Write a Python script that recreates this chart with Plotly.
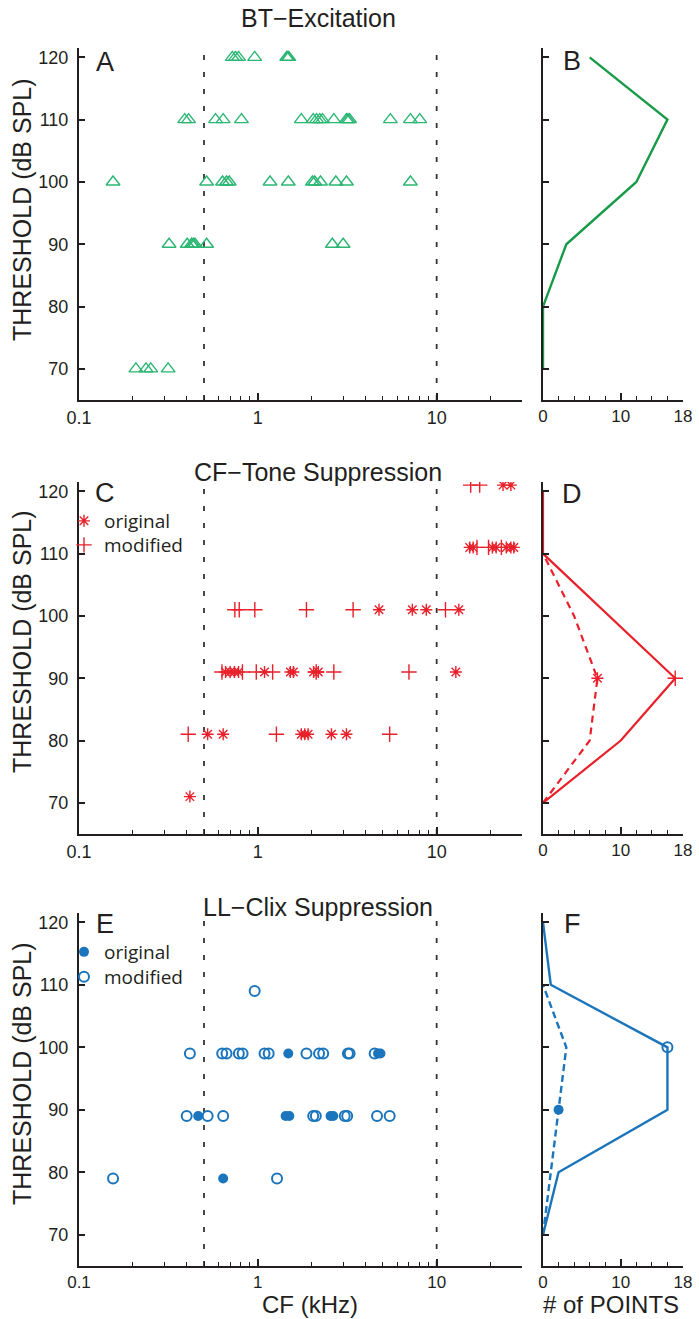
import math
import plotly.graph_objects as go

FONT = "Arial, Liberation Sans, sans-serif"
INK = "#231f20"
GREEN_PT = "#2bb673"
GREEN_LN = "#179b48"
RED = "#e8202a"
BLUE = "#1b75bc"

W, H = 699, 1319

# ---------------- data ----------------
# shared y levels for the distribution panels
levels = [70, 80, 90, 100, 110, 120]
cf_bounds = [0.5, 10]

# BT-Excitation: CF (kHz) and threshold (dB SPL)
bt_cf = [0.72, 0.75, 0.78, 0.96, 1.45, 1.47, 1.49,
         0.39, 0.41, 0.58, 0.64, 0.81, 1.75, 2.04, 2.13, 2.22, 2.30, 2.66, 3.13, 3.19, 3.26, 5.51, 7.13, 8.04,
         0.155, 0.517, 0.635, 0.668, 0.692, 1.17, 1.48, 2.02, 2.08, 2.24, 2.73, 3.13, 7.13,
         0.319, 0.403, 0.426, 0.435, 0.445, 0.517, 2.61, 3.0,
         0.208, 0.237, 0.252, 0.315]
bt_thr = [120] * 7 + [110] * 17 + [100] * 13 + [90] * 8 + [70] * 4
bt_counts = [0, 0, 3, 12, 16, 6]

# CF-Tone Suppression
cft_orig_cf = [23.5, 26.0,
               15.3, 16.0, 20.5, 21.5, 24.5, 26.0, 27.0,
               4.76, 7.31, 8.75, 13.3,
               0.66, 0.70, 0.74, 0.78, 1.09, 1.52, 1.58, 2.05, 2.18, 12.8,
               0.524, 0.640, 1.75, 1.83, 1.91, 2.58, 3.13,
               0.417]
cft_orig_thr = [121] * 2 + [111] * 7 + [101] * 4 + [91] * 10 + [81] * 7 + [71]
cft_mod_cf = [15.5, 17.4,
              16.8, 19.5, 23.0,
              0.744, 0.787, 0.962, 1.87, 3.41, 11.2,
              0.63, 0.82, 0.98, 1.21, 2.12, 2.66, 7.0,
              0.408, 1.27, 5.46]
cft_mod_thr = [121] * 2 + [111] * 3 + [101] * 6 + [91] * 7 + [81] * 3
cft_mod_counts = [0, 10, 17, 8.5, 0, 0]
cft_orig_levels = [70, 80, 90, 100, 110]
cft_orig_counts = [0, 6, 7, 4, 0]

# LL-Clix Suppression
llc_orig_cf = [1.48, 4.70, 4.85,
               0.464, 1.43, 1.50, 2.55, 2.64,
               0.640]
llc_orig_thr = [99] * 3 + [89] * 5 + [79]
llc_mod_cf = [0.96,
              0.417, 0.632, 0.668, 0.783, 0.822, 1.09, 1.15, 1.87, 2.20, 2.32, 3.19, 3.26, 4.50,
              0.400, 0.524, 0.640, 2.04, 2.11, 3.06, 3.16, 4.64, 5.46,
              0.155, 1.28]
llc_mod_thr = [109] + [99] * 13 + [89] * 9 + [79] * 2
llc_mod_counts = [0, 2, 16, 16, 1, 0]
llc_orig_levels = [70, 80, 90, 100, 110]
llc_orig_counts = [0, 1, 2, 3, 0]

# axis tick values
cf_major = [0.1, 1, 10]
cf_major_text = ["0.1", "1", "10"]
cf_minor = [0.2, 0.3, 0.4, 0.5, 0.6, 0.7, 0.8, 0.9, 2, 3, 4, 5, 6, 7, 8, 9, 20, 30]
thr_ticks = [70, 80, 90, 100, 110, 120]
count_major = [0, 10, 18]
count_minor = [2, 4, 6, 8, 12, 14, 16]

Y_RANGE = [65, 121.5]
CF_RANGE = [-1, math.log10(30)]
COUNT_RANGE = [0, 18]

# ---------------- layout geometry ----------------
xl = [79 / W, 522 / W]
xr = [543 / W, 683 / W]
rows = [(48, 400), (482, 834), (913, 1266)]
ydom = [[1 - b / H, 1 - t / H] for t, b in rows]

fig = go.Figure()


def add(trace, i, right):
    n = 2 * i + (2 if right else 1)
    sfx = "" if n == 1 else str(n)
    trace.update(xaxis="x" + sfx, yaxis="y" + sfx)
    fig.add_trace(trace)


# CF boundary lines on the scatter panels
for i in range(3):
    for b in cf_bounds:
        add(go.Scatter(x=[b, b], y=Y_RANGE, mode="lines", showlegend=False, hoverinfo="skip",
                       line=dict(color="#333333", width=1.8, dash="5px,12px")), i, False)

# ---- panel A / B ----
add(go.Scatter(x=bt_cf, y=bt_thr, mode="markers", showlegend=False,
               marker=dict(symbol="triangle-up-open", size=12, color=GREEN_PT,
                           line=dict(width=1.4, color=GREEN_PT))), 0, False)
add(go.Scatter(x=bt_counts, y=levels, mode="lines", showlegend=False,
               line=dict(color=GREEN_LN, width=2.4)), 0, True)

# ---- panel C / D ----
add(go.Scatter(x=cft_orig_cf, y=cft_orig_thr, mode="markers", name="original", legend="legend",
               marker=dict(symbol="asterisk-open", size=10, color=RED,
                           line=dict(width=1.4, color=RED))), 1, False)
add(go.Scatter(x=cft_mod_cf, y=cft_mod_thr, mode="markers", name="modified", legend="legend2",
               marker=dict(symbol="cross-thin-open", size=11, color=RED,
                           line=dict(width=1.4, color=RED))), 1, False)
add(go.Scatter(x=cft_mod_counts, y=levels, mode="lines", showlegend=False,
               line=dict(color=RED, width=2.2)), 1, True)
add(go.Scatter(x=cft_orig_counts, y=cft_orig_levels, mode="lines", showlegend=False,
               line=dict(color=RED, width=2.2, dash="7px,5px")), 1, True)
pk = cft_mod_counts.index(max(cft_mod_counts))
add(go.Scatter(x=[cft_mod_counts[pk]], y=[levels[pk]], mode="markers", showlegend=False,
               marker=dict(symbol="cross-thin-open", size=11, color=RED,
                           line=dict(width=1.4, color=RED))), 1, True)
pk = cft_orig_counts.index(max(cft_orig_counts))
add(go.Scatter(x=[cft_orig_counts[pk]], y=[cft_orig_levels[pk]], mode="markers", showlegend=False,
               marker=dict(symbol="asterisk-open", size=10, color=RED,
                           line=dict(width=1.4, color=RED))), 1, True)

# ---- panel E / F ----
add(go.Scatter(x=llc_orig_cf, y=llc_orig_thr, mode="markers", name="original", legend="legend3",
               marker=dict(symbol="circle", size=10, color=BLUE)), 2, False)
add(go.Scatter(x=llc_mod_cf, y=llc_mod_thr, mode="markers", name="modified", legend="legend4",
               marker=dict(symbol="circle-open", size=10, color=BLUE,
                           line=dict(width=2, color=BLUE))), 2, False)
add(go.Scatter(x=llc_mod_counts, y=levels, mode="lines", showlegend=False,
               line=dict(color=BLUE, width=2.4)), 2, True)
add(go.Scatter(x=llc_orig_counts, y=llc_orig_levels, mode="lines", showlegend=False,
               line=dict(color=BLUE, width=2.4, dash="7px,4px")), 2, True)
add(go.Scatter(x=[llc_mod_counts[3]], y=[levels[3]], mode="markers", showlegend=False,
               marker=dict(symbol="circle-open", size=10, color=BLUE,
                           line=dict(width=2, color=BLUE))), 2, True)
add(go.Scatter(x=[llc_orig_counts[2]], y=[llc_orig_levels[2]], mode="markers", showlegend=False,
               marker=dict(symbol="circle", size=10, color=BLUE)), 2, True)

# ---------------- axes ----------------
common = dict(showline=True, linewidth=2, linecolor=INK, showgrid=False, zeroline=False,
              automargin=False, ticks="inside", tickcolor=INK, tickwidth=1.5,
              tickfont=dict(family=FONT, size=18, color=INK))

for i in range(3):
    nl, nr = 2 * i + 1, 2 * i + 2
    sl = "" if nl == 1 else str(nl)
    sr = str(nr)
    xfont = dict(family=FONT, size=17 if i == 2 else 18, color=INK)
    rfont = dict(family=FONT, size=17, color=INK)
    fig.layout["xaxis" + sl] = dict(
        common, domain=xl, anchor="y" + sl, type="log", range=CF_RANGE,
        tickmode="array", tickvals=cf_major, ticktext=cf_major_text, ticklen=7,
        ticklabelstandoff=0, tickfont=xfont,
        minor=dict(tickmode="array", tickvals=cf_minor, ticks="inside", ticklen=4,
                   tickcolor=INK, tickwidth=1.2))
    fig.layout["yaxis" + sl] = dict(
        common, domain=ydom[i], anchor="x" + sl, range=Y_RANGE,
        tickmode="array", tickvals=thr_ticks, ticklen=6, ticklabelstandoff=5)
    fig.layout["xaxis" + sr] = dict(
        common, domain=xr, anchor="y" + sr, range=COUNT_RANGE,
        tickmode="array", tickvals=count_major, ticklen=7,
        ticklabelstandoff=0, tickfont=rfont,
        minor=dict(tickmode="array", tickvals=count_minor, ticks="inside", ticklen=4,
                   tickcolor=INK, tickwidth=1.2))
    fig.layout["yaxis" + sr] = dict(
        common, domain=ydom[i], anchor="x" + sr, range=Y_RANGE,
        tickmode="array", tickvals=thr_ticks, ticklen=6, showticklabels=False)

# ---------------- text ----------------
ann = []


def px(x, y):
    return x / W, 1 - y / H


titles = [("BT\u2212Excitation", 318, 18), ("CF\u2212Tone Suppression", 318, 472),
          ("LL\u2212Clix Suppression", 318, 907)]
for t, x, y in titles:
    ax_, ay_ = px(x, y)
    ann.append(dict(text=t, x=ax_, y=ay_, xref="paper", yref="paper", showarrow=False,
                    xanchor="center", yanchor="middle", font=dict(family=FONT, size=25, color=INK)))

letters = [("A", 105, 62), ("B", 572, 61), ("C", 105, 493), ("D", 572, 494),
           ("E", 105, 924), ("F", 572, 924)]
for t, x, y in letters:
    ax_, ay_ = px(x, y)
    ann.append(dict(text=t, x=ax_, y=ay_, xref="paper", yref="paper", showarrow=False,
                    xanchor="center", yanchor="middle", font=dict(family=FONT, size=27, color=INK)))

for yc in (210, 642, 1074):
    ax_, ay_ = px(22, yc)
    ann.append(dict(text="THRESHOLD (dB SPL)", x=ax_, y=ay_, xref="paper", yref="paper",
                    showarrow=False, textangle=-90, xanchor="center", yanchor="middle",
                    font=dict(family=FONT, size=25, color=INK)))

for t, x in (("CF (kHz)", 310), ("# of POINTS", 611)):
    ann.append(dict(text=t, x=x / W, y=0, xref="paper", yref="paper", showarrow=False,
                    xanchor="center", yanchor="bottom", borderpad=0,
                    font=dict(family=FONT, size=24, color=INK)))

legfont = dict(family="Open Sans, " + FONT, size=19, color=INK)


def leg(xp, yc):
    ax_, ay_ = px(xp, yc - 19)
    return dict(x=ax_, y=ay_, xanchor="left", yanchor="top", font=legfont,
                bgcolor="rgba(0,0,0,0)", itemwidth=30, tracegroupgap=0)


fig.update_layout(
    width=W, height=H, margin=dict(l=0, r=0, t=0, b=0, autoexpand=False),
    paper_bgcolor="white", plot_bgcolor="white",
    annotations=ann,
    legend=leg(64, 521),
    legend2=leg(64, 545),
    legend3=leg(64, 952),
    legend4=leg(64, 977),
)

fig.write_html("out.html")
